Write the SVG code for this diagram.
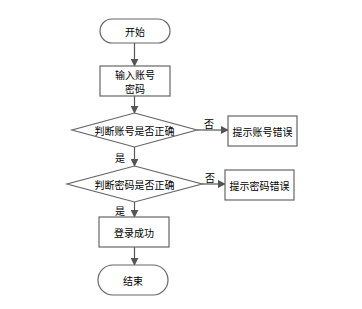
<svg xmlns="http://www.w3.org/2000/svg" width="362" height="309" viewBox="0 0 362 309">
<defs>
<marker id="ah" viewBox="0 0 10 10" refX="9" refY="5" markerWidth="8" markerHeight="8" markerUnits="userSpaceOnUse" orient="auto">
<path d="M0,0 L10,5 L0,10 z" fill="#555"/>
</marker>
<style>
.n{fill:#fff;stroke:#666;stroke-width:1.2}
.t{font-family:"Noto Sans CJK SC","Liberation Sans",sans-serif;font-size:10px;fill:#000;text-anchor:middle;dominant-baseline:central}
.l{font-family:"Noto Sans CJK SC","Liberation Sans",sans-serif;font-size:10px;fill:#000;text-anchor:middle;dominant-baseline:central}
.c{stroke:#555;stroke-width:1.2;fill:none;marker-end:url(#ah)}
</style>
</defs>
<rect width="362" height="309" fill="#fff"/>
<g id="connectors">
<line class="c" x1="134.5" y1="43" x2="134.5" y2="66"/>
<line class="c" x1="134.5" y1="96" x2="134.5" y2="113"/>
<line class="c" x1="197" y1="130" x2="228" y2="130"/>
<line class="c" x1="134.5" y1="147" x2="134.5" y2="166"/>
<line class="c" x1="202" y1="184" x2="225" y2="184"/>
<line class="c" x1="134.5" y1="202" x2="134.5" y2="217"/>
<line class="c" x1="134.5" y1="247" x2="134.5" y2="265"/>
<text class="l" x="209" y="123">否</text>
<text class="l" x="120" y="157">是</text>
<text class="l" x="210" y="177">否</text>
<text class="l" x="120" y="210">是</text>
</g>
<g id="start">
<rect class="n" x="100" y="19" width="70" height="24" rx="12"/>
<text class="t" x="135" y="31">开始</text>
</g>
<g id="input">
<rect class="n" x="100" y="66" width="70" height="30"/>
<text class="t" x="135" y="74">输入账号</text>
<text class="t" x="135" y="88">密码</text>
</g>
<g id="check1">
<polygon class="n" points="134.5,113 197,130 134.5,147 72,130"/>
<text class="t" x="134.5" y="130">判断账号是否正确</text>
</g>
<g id="err1">
<rect class="n" x="228" y="116" width="69" height="30"/>
<text class="t" x="262.5" y="131">提示账号错误</text>
</g>
<g id="check2">
<polygon class="n" points="134.5,166 202,184 134.5,202 67,184"/>
<text class="t" x="134.5" y="184">判断密码是否正确</text>
</g>
<g id="err2">
<rect class="n" x="225" y="170" width="69" height="30"/>
<text class="t" x="259.5" y="185">提示密码错误</text>
</g>
<g id="success">
<rect class="n" x="99" y="217" width="70" height="30"/>
<text class="t" x="134" y="232">登录成功</text>
</g>
<g id="end">
<rect class="n" x="98" y="265" width="70" height="30" rx="15"/>
<text class="t" x="133" y="280">结束</text>
</g>
</svg>
